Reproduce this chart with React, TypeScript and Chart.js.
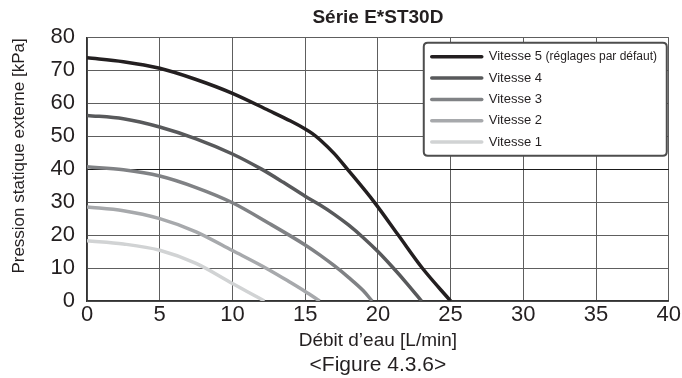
import React, { useEffect, useRef } from "react";
import { Chart, registerables } from "chart.js";

Chart.register(...registerables);

const titleText = "Série E*ST30D";
const xTitle = "Débit d’eau [L/min]";
const yTitle = "Pression statique externe [kPa]";
const figureCaption = "<Figure 4.3.6>";

const seriesNames = ["Vitesse 5", "Vitesse 4", "Vitesse 3", "Vitesse 2", "Vitesse 1"];
const seriesNotes = ["(réglages par défaut)", "", "", "", ""];
const seriesColors = ["#231f20", "#58595b", "#808285", "#a7a9ac", "#d1d3d4"];

const v5Flow = [0, 2.5, 5, 7.5, 10, 12.5, 14, 15, 15.5, 16, 17, 17.9, 19.75, 21.4, 23.05, 25];
const v5Pressure = [73.8, 72.6, 70.6, 67.2, 63, 57.8, 54.6, 52.2, 50.8, 49, 44.7, 40, 30, 20, 10, 0];

const v4Flow = [0, 2.5, 5, 7.5, 10, 12, 13.5, 15, 16, 17, 18, 19, 20, 21, 22, 23];
const v4Pressure = [56.3, 55.3, 52.8, 49.2, 44.6, 40, 36, 31.8, 29.2, 26.3, 23, 19.2, 15, 10.3, 5.3, 0];

const v3Flow = [0, 2.5, 5, 7.5, 10, 12.5, 15, 16, 17, 18, 19, 19.6];
const v3Pressure = [40.7, 39.8, 37.9, 34.4, 29.8, 23.6, 17, 14, 10.7, 7.1, 3.1, 0];

const v2Flow = [0, 2.5, 5, 7.5, 10, 12.5, 14, 15, 16];
const v2Pressure = [28.5, 27.4, 25, 21, 15.3, 9.5, 5.6, 2.9, 0];

const v1Flow = [0, 2.5, 5, 7.5, 10, 11, 12.2];
const v1Pressure = [18.3, 17.3, 15.4, 11.4, 5.3, 2.9, 0];

const flows = [v5Flow, v4Flow, v3Flow, v2Flow, v1Flow];
const pressures = [v5Pressure, v4Pressure, v3Pressure, v2Pressure, v1Pressure];

const FONT = "'Liberation Sans', Arial, sans-serif";
const NARROW = "'Liberation Sans Narrow', 'Liberation Sans', Arial, sans-serif";

const yTitlePlugin = {
  id: "yTitleText",
  afterDraw(chart: any) {
    const { ctx, chartArea } = chart;
    const cy = chartArea.top + (chartArea.bottom - chartArea.top) * 0.45;
    ctx.save();
    ctx.translate(19, cy);
    ctx.rotate(-Math.PI / 2);
    ctx.fillStyle = "#231f20";
    ctx.font = `17px ${FONT}`;
    ctx.textAlign = "center";
    ctx.textBaseline = "middle";
    ctx.fillText(yTitle, 0, 0);
    ctx.restore();
  },
};

const legendBoxPlugin = {
  id: "legendBox",
  afterDatasetsDraw(chart: any) {
    const { ctx, chartArea } = chart;
    const w = 243;
    const h = 113;
    const x = chartArea.right - w - 2;
    const y = chartArea.top + 5.5;
    ctx.save();
    ctx.beginPath();
    const r = 4;
    ctx.moveTo(x + r, y);
    ctx.lineTo(x + w - r, y);
    ctx.quadraticCurveTo(x + w, y, x + w, y + r);
    ctx.lineTo(x + w, y + h - r);
    ctx.quadraticCurveTo(x + w, y + h, x + w - r, y + h);
    ctx.lineTo(x + r, y + h);
    ctx.quadraticCurveTo(x, y + h, x, y + h - r);
    ctx.lineTo(x, y + r);
    ctx.quadraticCurveTo(x, y, x + r, y);
    ctx.closePath();
    ctx.fillStyle = "#ffffff";
    ctx.fill();
    ctx.lineWidth = 2;
    ctx.strokeStyle = "#4d4d4d";
    ctx.stroke();
    const rowGap = 21.3;
    seriesNames.forEach((name, i) => {
      const cy = y + 14 + i * rowGap;
      ctx.beginPath();
      ctx.lineCap = "round";
      ctx.lineWidth = 3.5;
      ctx.strokeStyle = seriesColors[i];
      ctx.moveTo(x + 8, cy);
      ctx.lineTo(x + 58, cy);
      ctx.stroke();
      ctx.fillStyle = "#231f20";
      ctx.textBaseline = "middle";
      ctx.textAlign = "left";
      ctx.font = `13px ${FONT}`;
      const tx = x + 65;
      ctx.fillText(name, tx, cy);
      if (seriesNotes[i]) {
        const nw = ctx.measureText(name + " ").width;
        ctx.font = `12px ${NARROW}`;
        ctx.fillText(seriesNotes[i], tx + nw, cy);
      }
    });
    ctx.restore();
  },
};

export default function App() {
  const canvasRef = useRef<HTMLCanvasElement | null>(null);

  useEffect(() => {
    if (!canvasRef.current) return;
    const datasets = seriesNames.map((name, i) => ({
      label: name,
      data: flows[i].map((f, j) => ({ x: f, y: pressures[i][j] })),
      borderColor: seriesColors[i],
      backgroundColor: seriesColors[i],
      borderWidth: 3.5,
      pointRadius: 0,
      cubicInterpolationMode: "monotone" as const,
      fill: false,
    }));
    const chart = new Chart(canvasRef.current, {
      type: "line",
      data: { datasets: datasets.slice().reverse() },
      options: {
        animation: false,
        responsive: false,
        layout: { padding: { left: 0, right: 9.5, top: 0, bottom: 0 } },
        plugins: {
          legend: { display: false },
          tooltip: { enabled: false },
          title: {
            display: true,
            text: titleText,
            fullSize: false,
            color: "#231f20",
            font: { family: FONT, size: 19, weight: "bold" },
            padding: { top: 6.6, bottom: 7.9 },
          },
          subtitle: {
            display: true,
            text: figureCaption,
            position: "bottom",
            fullSize: false,
            color: "#231f20",
            font: { family: FONT, size: 21 },
            padding: { top: 0, bottom: 0.4 },
          },
        },
        scales: {
          x: {
            type: "linear",
            min: 0,
            max: 40,
            ticks: {
              stepSize: 5,
              color: "#231f20",
              font: { family: FONT, size: 22 },
              padding: 1,
              maxRotation: 0,
            },
            grid: {
              color: "#5e5e5e",
              lineWidth: 1,
              drawTicks: false,
            },
            border: { display: true, color: "#333333", width: 1.5 },
            title: {
              display: true,
              text: xTitle,
              color: "#231f20",
              font: { family: FONT, size: 19 },
              padding: { top: 0, bottom: 0.2 },
            },
          },
          y: {
            type: "linear",
            min: 0,
            max: 80,
            afterFit: (scale: any) => {
              scale.width = 87;
            },
            ticks: {
              stepSize: 10,
              color: "#231f20",
              font: { family: FONT, size: 22 },
              padding: 12,
            },
            grid: {
              color: (c: any) => (c.tick && c.tick.value === 40 ? "#1a1a1a" : "#5e5e5e"),
              lineWidth: 1,
              drawTicks: false,
            },
            border: { display: true, color: "#333333", width: 1.5 },
            title: { display: false, text: yTitle },
          },
        },
      },
      plugins: [legendBoxPlugin, yTitlePlugin],
    });
    return () => chart.destroy();
  }, []);

  return (
    <div style={{ position: "fixed", left: 0, top: 0, width: 682, height: 378, background: "#fff" }}>
      <canvas ref={canvasRef} width={682} height={378} />
    </div>
  );
}
